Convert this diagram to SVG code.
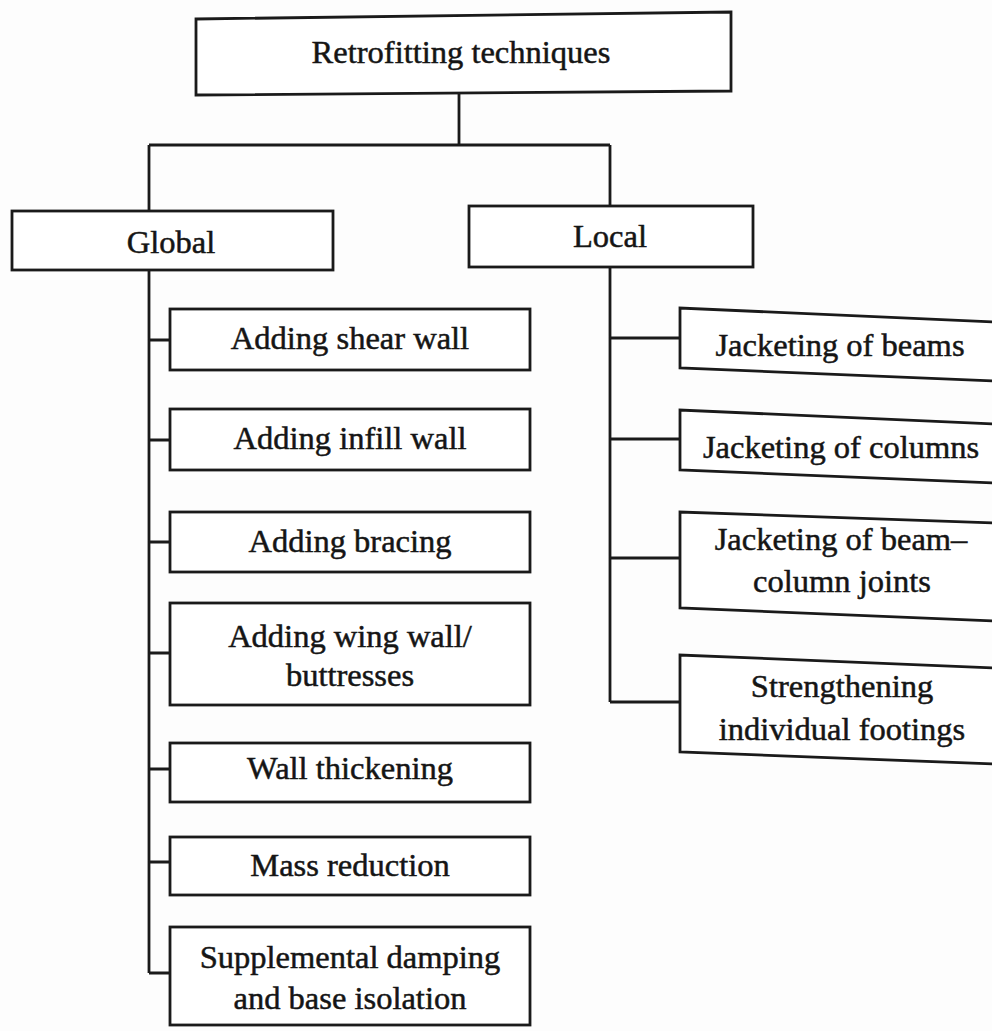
<svg xmlns="http://www.w3.org/2000/svg" width="992" height="1031" viewBox="0 0 992 1031">
<style>
.bx{fill:#fff;stroke:#1a1a1a;stroke-width:2.8;stroke-linejoin:miter}
.ln{fill:none;stroke:#1a1a1a;stroke-width:2.8}
text{font-family:"Liberation Serif","Times New Roman",serif;font-size:32.5px;fill:#151515;stroke:#151515;stroke-width:0.5;text-anchor:middle}
</style>
<rect width="992" height="1031" fill="#fdfdfd"/>
<g id="connectors" class="ln">
<path d="M459,93 V145 M149,145 H610 M149,145 V211 M610,145 V206"/>
<path d="M149,270 V973 M149,340 H170 M149,440 H170 M149,542 H170 M149,653 H170 M149,769 H170 M149,862 H170 M149,973 H170"/>
<path d="M610,267 V702 M610,338 H680 M610,439 H680 M610,558 H680 M610,702 H680"/>
</g>
<g id="root"><polygon class="bx" points="196,19 731,12 731,91 196,95"/><text x="461" y="63">Retrofitting techniques</text></g>
<g id="global"><rect class="bx" x="12" y="211" width="321" height="59"/><text x="171" y="253">Global</text></g>
<g id="local"><rect class="bx" x="469" y="206" width="284" height="61"/><text x="610" y="247">Local</text></g>
<g id="shear"><rect class="bx" x="170" y="309" width="360" height="61"/><text x="350" y="349">Adding shear wall</text></g>
<g id="infill"><rect class="bx" x="170" y="409" width="360" height="61"/><text x="350" y="449">Adding infill wall</text></g>
<g id="bracing"><rect class="bx" x="170" y="512" width="360" height="60"/><text x="350" y="552">Adding bracing</text></g>
<g id="wing"><rect class="bx" x="170" y="603" width="360" height="102"/><text x="350" y="647">Adding wing wall/</text><text x="350" y="686">buttresses</text></g>
<g id="thick"><rect class="bx" x="170" y="743" width="360" height="59"/><text x="350" y="779">Wall thickening</text></g>
<g id="mass"><rect class="bx" x="170" y="837" width="360" height="58"/><text x="350" y="876">Mass reduction</text></g>
<g id="damp"><rect class="bx" x="170" y="927" width="360" height="98"/><text x="350" y="968">Supplemental damping</text><text x="350" y="1009">and base isolation</text></g>
<g id="beams"><path class="bx" d="M995,322 L680,308 L680,368 L995,381"/><text x="840" y="356">Jacketing of beams</text></g>
<g id="columns"><path class="bx" d="M995,424 L680,410 L680,470 L995,483"/><text x="841" y="458">Jacketing of columns</text></g>
<g id="joints"><path class="bx" d="M995,523 L680,512 L680,608 L995,621"/><text x="841" y="550">Jacketing of beam–</text><text x="842" y="592">column joints</text></g>
<g id="footings"><path class="bx" d="M995,668 L680,655 L680,752 L995,764"/><text x="842" y="697">Strengthening</text><text x="842" y="740">individual footings</text></g>
</svg>
